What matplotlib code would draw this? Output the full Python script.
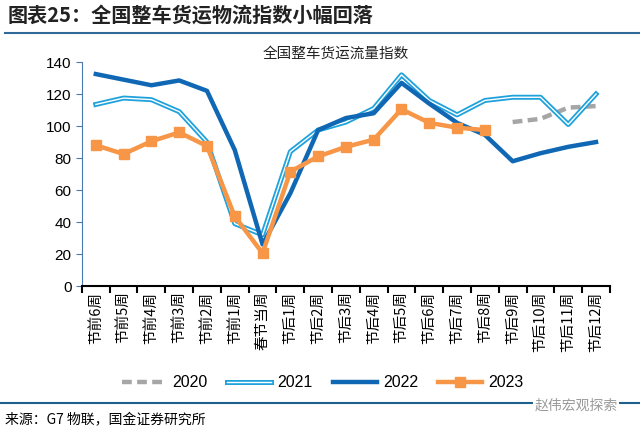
import matplotlib
matplotlib.use('Agg')
import matplotlib.pyplot as plt
import matplotlib.patheffects as pe
import numpy as np

plt.rcParams['font.family'] = ['Liberation Sans', 'Noto Sans CJK SC', 'DejaVu Sans']

# categories (weeks around Spring Festival)
weeks = ['节前6周', '节前5周', '节前4周', '节前3周', '节前2周', '节前1周', '春节当周',
         '节后1周', '节后2周', '节后3周', '节后4周', '节后5周', '节后6周', '节后7周',
         '节后8周', '节后9周', '节后10周', '节后11周', '节后12周']

# values
y2020 = [None] * 15 + [102.5, 104.5, 111.5, 112.5]
y2021 = [113.5, 117.5, 116.5, 109, 90, 39, 32, 84, 97.5, 102.5, 111, 132, 116,
         107, 116, 118, 118, 101, 120]
y2022 = [132.5, 129, 125.5, 128.5, 122, 85, 26, 58, 97.5, 105, 108, 127, 114,
         102, 94.5, 78, 83, 87, 90]
y2023 = [88, 82.5, 90.5, 96, 87.5, 43.5, 20.5, 71.5, 81, 87, 91.5, 110.5, 102,
         99, 97.5]

x = np.arange(len(weeks))
cjk = ['Noto Sans CJK SC', 'DejaVu Sans']

fig = plt.figure(figsize=(6.4, 4.34), dpi=100)
ax = fig.add_axes([0.128, 0.341, 0.825, 0.516])

# series
x20 = [i for i, v in enumerate(y2020) if v is not None]
v20 = [v for v in y2020 if v is not None]
ax.plot(x20, v20, color='#a6a6a6', lw=3.2, ls=(0, (2.2, 1.2)), label='2020')
ax.plot(x, y2021, color='white', lw=1.0, label='2021',
        path_effects=[pe.Stroke(linewidth=3.6, foreground='#1fa2dc'), pe.Normal()])
ax.plot(x, y2022, color='#1068b4', lw=3.2, label='2022')
ax.plot(x[:len(y2023)], y2023, color='#f79646', lw=3.2, marker='s', ms=6.5,
        label='2023')

ax.set_xlim(-0.5, len(weeks) - 0.5)
ax.set_ylim(0, 140)
ax.set_yticks(np.arange(0, 141, 20))
ax.tick_params(axis='y', labelsize=11, length=4, direction='out', color='#4a7ab0')
ax.set_xticks(np.arange(-0.5, len(weeks), 1.0))
ax.set_xticklabels([])
ax.set_xticks(x, minor=True)
ax.set_xticklabels(weeks, minor=True, rotation=90, fontsize=10.5, family=cjk)
ax.tick_params(axis='x', which='major', length=5, width=1.5, direction='out')
ax.tick_params(axis='x', which='minor', length=0, pad=4)
for s in ['top', 'right']:
    ax.spines[s].set_visible(False)
ax.spines['left'].set_color('#4a7ab0')
ax.spines['bottom'].set_linewidth(1.5)

ax.text(0.481, 1.036, '全国整车货运流量指数', transform=ax.transAxes, ha='center',
        va='center', fontsize=10.5, color='#222222', family=cjk)

ax.legend(loc='center', bbox_to_anchor=(0.456, -0.433), ncol=4, frameon=False,
          fontsize=11.5, handlelength=2.75, columnspacing=1.25, handletextpad=0.4)

# header and footer
fig.text(0.012, 0.965, '图表25：全国整车货运物流指数小幅回落', fontsize=14.5,
         fontweight='bold', color='#222222', va='center', family=cjk)
fig.add_artist(plt.Line2D([0.008, 1], [0.924, 0.924], color='#2f6a98', lw=1.5))
fig.add_artist(plt.Line2D([0, 1], [0.072, 0.072], color='#1f5f8b', lw=1.5))
fig.text(0.008, 0.032, '来源：G7 物联，国金证券研究所', fontsize=10, va='center',
         family=cjk)
fig.text(0.965, 0.065, '赵伟宏观探索', fontsize=10, color='#9a9a9a', ha='right',
         va='center', family=cjk,
         bbox=dict(facecolor='white', edgecolor='none', pad=1))

fig.savefig('out.png', dpi=100)
